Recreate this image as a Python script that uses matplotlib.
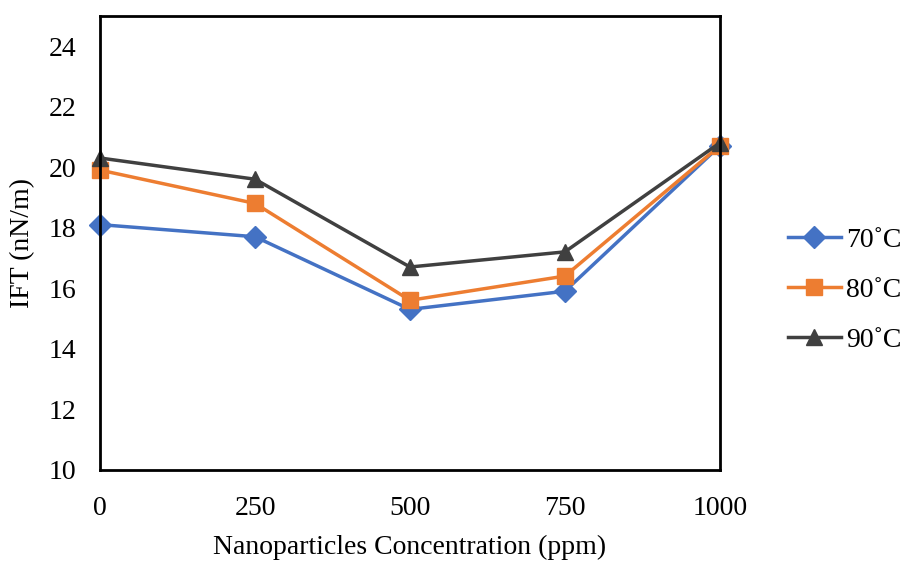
import matplotlib
matplotlib.use("Agg")
import matplotlib.pyplot as plt

# data
concentration = [0, 250, 500, 750, 1000]
ift_70 = [18.1, 17.7, 15.3, 15.9, 20.7]
ift_80 = [19.9, 18.8, 15.6, 16.4, 20.7]
ift_90 = [20.3, 19.6, 16.7, 17.2, 20.8]
series_labels = ["70˚C", "80˚C", "90˚C"]
y_ticks = [10, 12, 14, 16, 18, 20, 22, 24]

plt.rcParams['font.family'] = ['Liberation Serif', 'DejaVu Serif']

fig = plt.figure(figsize=(9.1, 5.62), dpi=100)
ax = fig.add_axes([0.110, 0.164, 0.681, 0.808])

ax.plot(concentration, ift_70, '-D', color='#4472C4', lw=2.5, ms=11, label=series_labels[0])
ax.plot(concentration, ift_80, '-s', color='#ED7D31', lw=2.5, ms=12, label=series_labels[1])
ax.plot(concentration, ift_90, '-^', color='#404040', lw=2.5, ms=12, label=series_labels[2])

ax.set_xlim(0, 1000)
ax.set_ylim(10, 25)
ax.set_xticks(concentration)
ax.set_yticks(y_ticks)
ax.tick_params(length=0, labelsize=20)
ax.tick_params(axis='x', pad=19)
ax.tick_params(axis='y', pad=17)
ax.set_xlabel("Nanoparticles Concentration (ppm)", fontsize=20, labelpad=10)
ax.set_ylabel("IFT (nN/m)", fontsize=20, labelpad=10)
for s in ax.spines.values():
    s.set_linewidth(2)
    s.set_color('black')

for line in ax.lines:
    line.set_clip_on(False)

leg = fig.legend(loc='center left', bbox_to_anchor=(0.866, 0.484), frameon=False,
                 fontsize=20, handlelength=1.9, handletextpad=0.2,
                 labelspacing=0.88, borderaxespad=0.0, borderpad=0.0)

fig.savefig("out.png", dpi=100)
